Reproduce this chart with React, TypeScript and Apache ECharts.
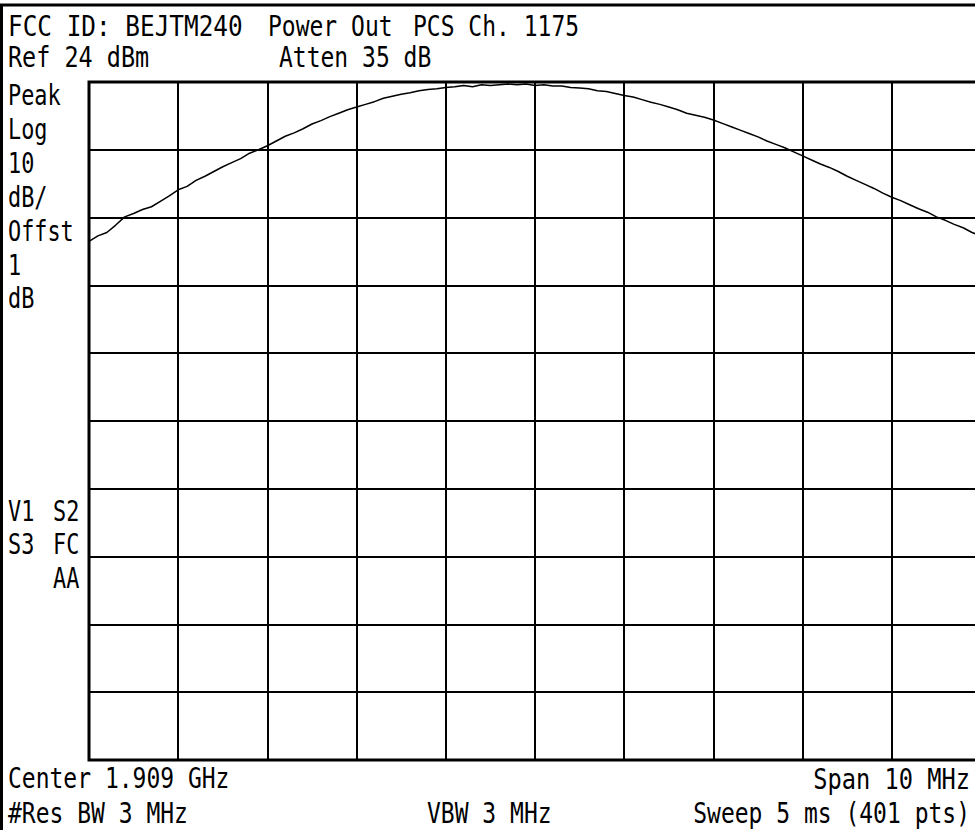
import React, { useEffect, useRef } from "react";
import * as echarts from "echarts";

// Analyzer setup
const CENTER_MHZ = 1909;
const SPAN_MHZ = 10;
const REF_LEVEL_DBM = 24;
const DB_PER_DIV = 10;
const STEP_MHZ = 0.1;

// Trace levels (dBm), every 0.1 MHz from 1904 MHz to 1914 MHz
const traceLevels = [
  0.5, 1.3, 1.8, 2.9, 4.1, 4.6, 5.2, 5.6, 6.4, 7.2,
  8.1, 8.6, 9.5, 10.1, 10.8, 11.5, 12.1, 12.7, 13.5, 14.0,
  14.6, 15.3, 16.0, 16.5, 17.1, 17.8, 18.3, 18.9, 19.4, 19.9,
  20.3, 20.7, 21.1, 21.6, 21.9, 22.2, 22.4, 22.7, 22.9, 23.0,
  23.2, 23.3, 23.5, 23.3, 23.6, 23.5, 23.6, 23.7, 23.6, 23.7,
  23.5, 23.6, 23.4, 23.4, 23.2, 23.1, 23.0, 22.7, 22.6, 22.3,
  22.0, 21.8, 21.4, 21.0, 20.7, 20.3, 19.9, 19.4, 19.1, 18.8,
  18.4, 17.9, 17.4, 16.9, 16.4, 15.9, 15.3, 14.8, 14.3, 13.7,
  13.1, 12.5, 11.9, 11.4, 10.8, 10.1, 9.5, 8.9, 8.3, 7.6,
  7.0, 6.5, 5.9, 5.3, 4.8, 4.1, 3.6, 3.0, 2.5, 1.8,
  1.3,
];

const headerLine1 = ["FCC ID: BEJTM240", "Power Out", "PCS Ch. 1175"];
const headerLine2 = ["Ref 24 dBm", "Atten 35 dB"];
const leftLabels = ["Peak", "Log", "10", "dB/", "Offst", "1", "dB"];
const statusLeft = [["V1", "S2"], ["S3", "FC"], ["", "AA"]];
const footerLine1 = ["Center 1.909 GHz", "Span 10 MHz"];
const footerLine2 = ["#Res BW 3 MHz", "VBW 3 MHz", "Sweep 5 ms (401 pts)"];

const FONT = "23px 'DejaVu Sans Mono', monospace";

function txt(text: string, x: number, y: number, align: string = "left", sx = 1, sy = 1.2) {
  return {
    type: "text",
    x,
    y,
    scaleX: sx,
    scaleY: sy,
    silent: true,
    style: {
      text,
      x: 0,
      y: 0,
      font: FONT,
      fill: "#000",
      textAlign: align,
      textVerticalAlign: "middle",
    },
  };
}

export default function App() {
  const ref = useRef<HTMLDivElement>(null);

  useEffect(() => {
    if (!ref.current) return;
    const chart = echarts.init(ref.current, null, { renderer: "svg" });
    const startMHz = CENTER_MHZ - SPAN_MHZ / 2;
    const data = traceLevels.map((v, i) => [
      +(startMHz + i * STEP_MHZ).toFixed(2),
      v - REF_LEVEL_DBM,
    ]);

    const graphics: any[] = [
      // outer frame
      { type: "line", silent: true, shape: { x1: 0, y1: 5, x2: 975, y2: 5 }, style: { stroke: "#000", lineWidth: 3 } },
      { type: "line", silent: true, shape: { x1: 1.5, y1: 5, x2: 1.5, y2: 830 }, style: { stroke: "#000", lineWidth: 3 } },
      txt(headerLine1[0], 8, 26, "left", 1.06),
      txt(headerLine1[1], 268, 26, "left", 1.0),
      txt(headerLine1[2], 413, 26, "left", 1.0),
      txt(headerLine2[0], 8, 57, "left", 1.02),
      txt(headerLine2[1], 279, 57, "left", 1.0),
    ];
    const leftYs = [96, 130, 164, 198, 232, 266, 299];
    leftLabels.forEach((l, i) => graphics.push(txt(l, 8, leftYs[i], "left", 0.95)));
    const statusYs = [512, 545, 579];
    statusLeft.forEach((row, i) => {
      if (row[0]) graphics.push(txt(row[0], 8, statusYs[i], "left", 0.95));
      if (row[1]) graphics.push(txt(row[1], 53, statusYs[i], "left", 0.95));
    });
    graphics.push(txt(footerLine1[0], 8, 778, "left", 1.0));
    graphics.push(txt(footerLine1[1], 970, 779, "right", 1.03));
    graphics.push(txt(footerLine2[0], 8, 813, "left", 1.0));
    graphics.push(txt(footerLine2[1], 427, 813, "left", 1.0));
    graphics.push(txt(footerLine2[2], 970, 813, "right", 1.0));

    chart.setOption({
      animation: false,
      backgroundColor: "#fff",
      grid: {
        left: 89,
        top: 82,
        width: 892,
        height: 678,
        outerBoundsMode: "none",
        show: true,
        borderColor: "#000",
        borderWidth: 3,
        backgroundColor: "#fff",
        containLabel: false,
      },
      xAxis: {
        type: "value",
        min: startMHz,
        max: startMHz + SPAN_MHZ,
        interval: SPAN_MHZ / 10,
        axisLabel: { show: false },
        axisTick: { show: false },
        axisLine: { show: false },
        splitLine: { show: true, lineStyle: { color: "#000", width: 2, type: "solid" } },
      },
      yAxis: {
        type: "value",
        min: -10 * DB_PER_DIV,
        max: 0,
        interval: DB_PER_DIV,
        axisLabel: { show: false },
        axisTick: { show: false },
        axisLine: { show: false },
        splitLine: { show: true, lineStyle: { color: "#000", width: 2, type: "solid" } },
      },
      series: [
        {
          type: "line",
          data,
          symbol: "none",
          smooth: false,
          clip: true,
          lineStyle: { color: "#000", width: 1.5 },
        },
      ],
      graphic: graphics,
    });
    return () => chart.dispose();
  }, []);

  return (
    <div
      ref={ref}
      style={{ position: "fixed", left: 0, top: 0, width: 975, height: 830, background: "#fff" }}
    />
  );
}
